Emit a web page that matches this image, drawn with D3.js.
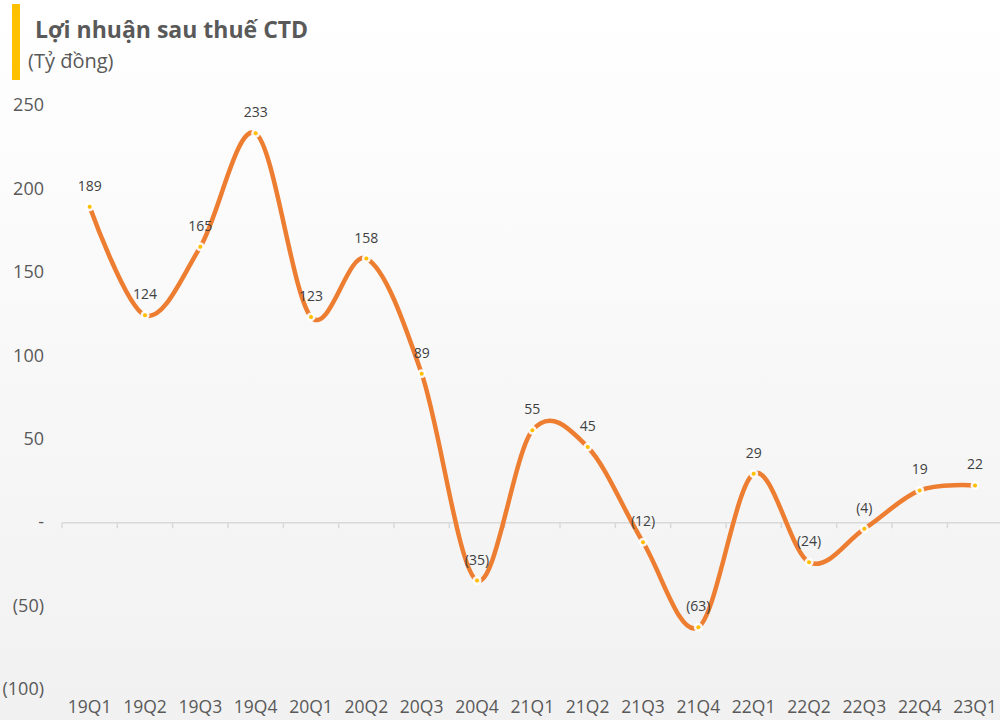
<!DOCTYPE html>
<html><head><meta charset="utf-8">
<script src="https://cdn.jsdelivr.net/npm/d3@7"></script>
<style>html,body{margin:0;padding:0;background:#fff;}svg{display:block;}</style>
</head><body>
<script>
const categories = ["19Q1","19Q2","19Q3","19Q4","20Q1","20Q2","20Q3","20Q4","21Q1","21Q2","21Q3","21Q4","22Q1","22Q2","22Q3","22Q4","23Q1"];
const profit = [189,124,165,233,123,158,89,-35,55,45,-12,-63,29,-24,-4,19,22];
const yTicks = [250,200,150,100,50,0,-50,-100];
const title = "Lợi nhuận sau thuế CTD";
const subtitle = "(Tỷ đồng)";

const W = 1000, H = 720;
const svg = d3.select("body").append("svg").attr("width", W).attr("height", H);
const defs = svg.append("defs");
const g = defs.append("linearGradient").attr("id","bg").attr("x1",0).attr("y1",0).attr("x2",0).attr("y2",1);
g.append("stop").attr("offset","0%").attr("stop-color","#ffffff");
g.append("stop").attr("offset","100%").attr("stop-color","#f1f1f1");
svg.append("rect").attr("width",W).attr("height",H).attr("fill","url(#bg)");

const font = "Open Sans, Noto Sans, sans-serif";
svg.append("rect").attr("x",12).attr("y",4).attr("width",8).attr("height",76).attr("fill","#FFC000");
svg.append("text").attr("x",35).attr("y",38).text(title)
  .attr("font-family",font).attr("font-weight","bold").attr("font-size",23).attr("fill","#595959");
svg.append("text").attr("x",28).attr("y",68).text(subtitle)
  .attr("font-family",font).attr("font-size",20).attr("fill","#595959");

const x = d3.scaleBand().domain(categories).range([62, 1002.7]);
const y = d3.scaleLinear().domain([-100, 250]).range([689, 105]);

const fmt = v => v === 0 ? "-" : (v < 0 ? "(" + Math.abs(v) + ")" : String(v));

// y axis labels
const yAxis = d3.axisLeft(y).tickValues(yTicks).tickFormat(fmt).tickSize(0).tickPadding(0);
const ya = svg.append("g").attr("transform","translate(44,0)").call(yAxis);
ya.select(".domain").remove();
ya.selectAll("text").attr("font-family",font).attr("font-size",18).attr("fill","#595959");

// x axis at zero
const xAxis = d3.axisBottom(x).tickSize(0).tickFormat("");
const xa = svg.append("g").attr("transform",`translate(0,${y(0)})`).call(xAxis);
xa.select(".domain").attr("stroke","#d9d9d9").attr("stroke-width",1.5);
// boundary ticks
const bounds = categories.map(c => x(c)).concat([x.range()[1]]);
xa.selectAll(".bt").data(bounds).enter().append("line")
  .attr("x1",d=>d).attr("x2",d=>d).attr("y1",0).attr("y2",6)
  .attr("stroke","#d9d9d9").attr("stroke-width",1.5);

// category labels at bottom
svg.append("g").selectAll("text").data(categories).enter().append("text")
  .attr("x",d=>x(d)+x.bandwidth()/2).attr("y",713).attr("text-anchor","middle")
  .attr("font-family",font).attr("font-size",17.5).attr("fill","#595959").text(d=>d);

const pts = categories.map((c,i)=>({c, v:profit[i]}));
const line = d3.line().x(d=>x(d.c)+x.bandwidth()/2).y(d=>y(d.v)).curve(d3.curveCardinal.tension(0));
svg.append("path").datum(pts).attr("d",line).attr("fill","none")
  .attr("stroke","#ED7D31").attr("stroke-width",4.5).attr("stroke-linecap","round");

const m = svg.append("g").selectAll("g").data(pts).enter().append("g")
  .attr("transform",d=>`translate(${x(d.c)+x.bandwidth()/2},${y(d.v)})`);
m.append("circle").attr("r",4.5).attr("fill","#ffffff").attr("opacity",0.9);
m.append("circle").attr("r",2).attr("fill","#FFC000");

svg.append("g").selectAll("text").data(pts).enter().append("text")
  .attr("x",d=>x(d.c)+x.bandwidth()/2).attr("y",d=>y(d.v)-16).attr("text-anchor","middle")
  .attr("font-family",font).attr("font-size",14).attr("fill","#404040").text(d=>fmt(d.v));
</script>
</body></html>
